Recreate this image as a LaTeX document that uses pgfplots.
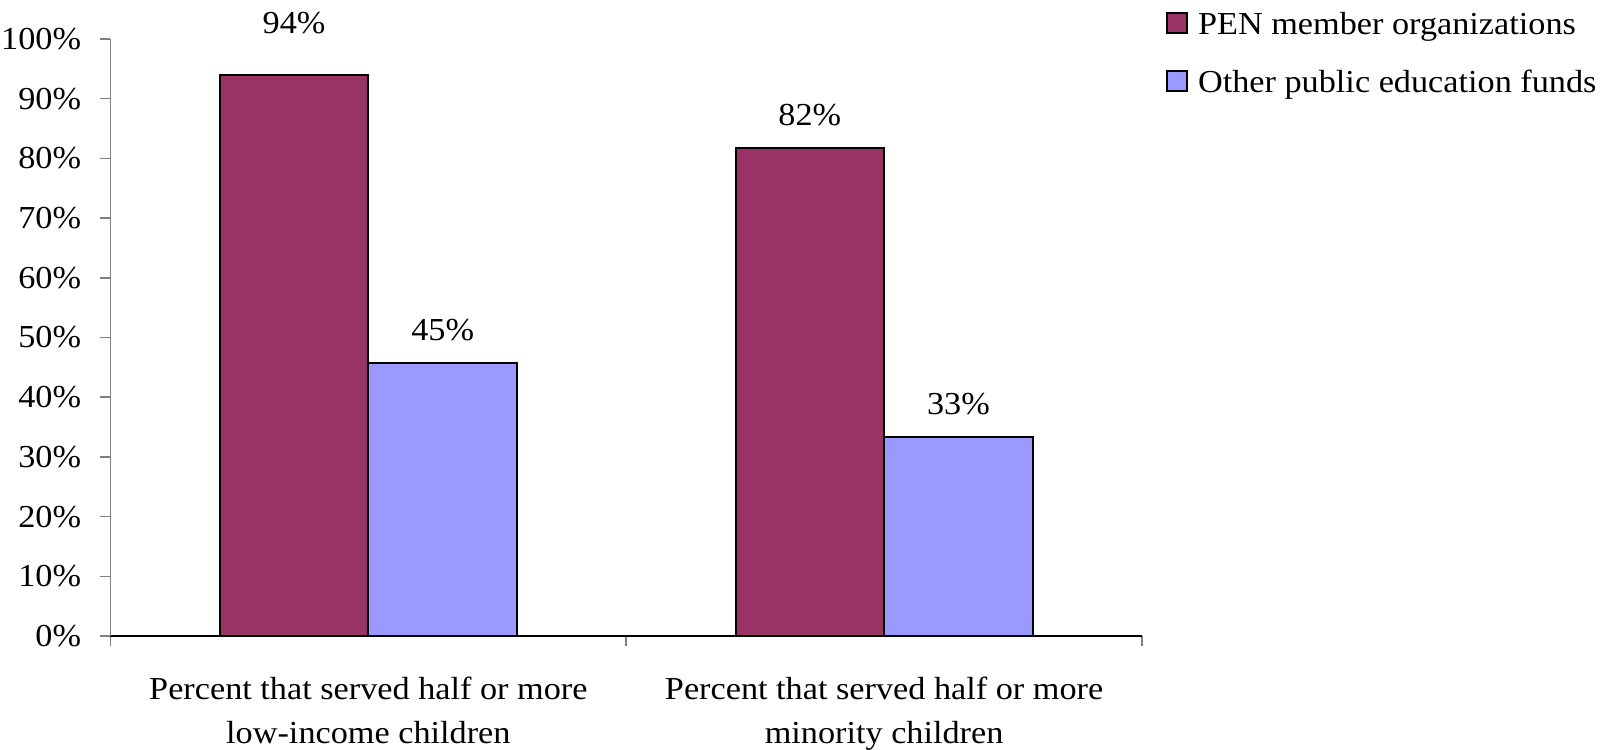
\documentclass[border=0pt]{standalone}
\usepackage{fontspec}
\setmainfont{Liberation Serif}[FakeStretch=1.07]
\usepackage{pgfplots}
\usepackage{pgfplotstable}
\pgfplotsset{compat=1.18}
\definecolor{pen}{HTML}{993366}
\definecolor{other}{HTML}{9999FF}

% x = category, y = bar height, lab = printed label, off = label lift (pt)
\pgfplotstableread{
x y lab off
0 93.9 94 26.3
1 81.7 82 16.5
}\tabpen
\pgfplotstableread{
x y lab off
0 45.7 45 16.5
1 33.4 33 16.5
}\tabother

\pgfplotsset{
  barlab/.style={
    point meta=explicit symbolic,
    nodes near coords={\pgfplotspointmeta\%},
    visualization depends on=\thisrow{off}\as\off,
    nodes near coords style={anchor=center, yshift=\off pt},
  },
}

\begin{document}
\begin{tikzpicture}[font=\fontsize{16pt}{20pt}\selectfont]
\begin{axis}[
  at={(0,0)}, anchor=south west,
  scale only axis, width=515.75pt, height=298.5pt,
  ybar=0pt, bar width=0.288,
  xmin=-0.5, xmax=1.5, ymin=0, ymax=100,
  axis x line*=bottom, axis y line*=left,
  x axis line style={black, line width=0.8pt},
  y axis line style={gray, line width=0.8pt},
  tick align=outside, major tick length=5pt,
  tick style={gray, line width=0.8pt},
  xtick={-0.5,0.5,1.5}, xticklabels={{},{},{}},
  extra x ticks={0,1},
  extra x tick labels={{Percent that served half or more\\low-income children},{Percent that served half or more\\minority children}},
  extra x tick style={major tick length=0pt,
    xticklabel style={align=center, font=\fontsize{16pt}{22pt}\selectfont,
      anchor=north, inner sep=0pt, yshift=-20.5pt}},
  ytick={0,10,...,100},
  yticklabel={\pgfmathprintnumber{\tick}\%},
  /pgf/number format/assume math mode=true,
  yticklabel style={anchor=east, inner sep=0pt, xshift=-9.5pt},
  legend style={at={(axis description cs:1.023,1.0464)}, anchor=north west,
    draw=none, fill=none, inner sep=0pt, row sep=14.35pt,
    cells={anchor=base west},
    nodes={inner sep=0pt, text height=11pt, text depth=3.5pt},
    /tikz/every odd column/.append style={column sep=5pt}},
]
\addplot[fill=pen, draw=black, line width=1pt, barlab,
  legend image code/.code={\draw[fill=pen, draw=black, line width=1pt] (0pt,0.8pt) rectangle (10pt,10.8pt);}]
  table[x=x, y=y, meta=lab] {\tabpen};
\addlegendentry{PEN member organizations}
\addplot[fill=other, draw=black, line width=1pt, barlab,
  legend image code/.code={\draw[fill=other, draw=black, line width=1pt] (0pt,0.8pt) rectangle (10pt,10.8pt);}]
  table[x=x, y=y, meta=lab] {\tabother};
\addlegendentry{Other public education funds}
\end{axis}
\pgfresetboundingbox
\useasboundingbox (-55.25pt,-57pt) rectangle (754.25pt,318pt);
\end{tikzpicture}
\end{document}
